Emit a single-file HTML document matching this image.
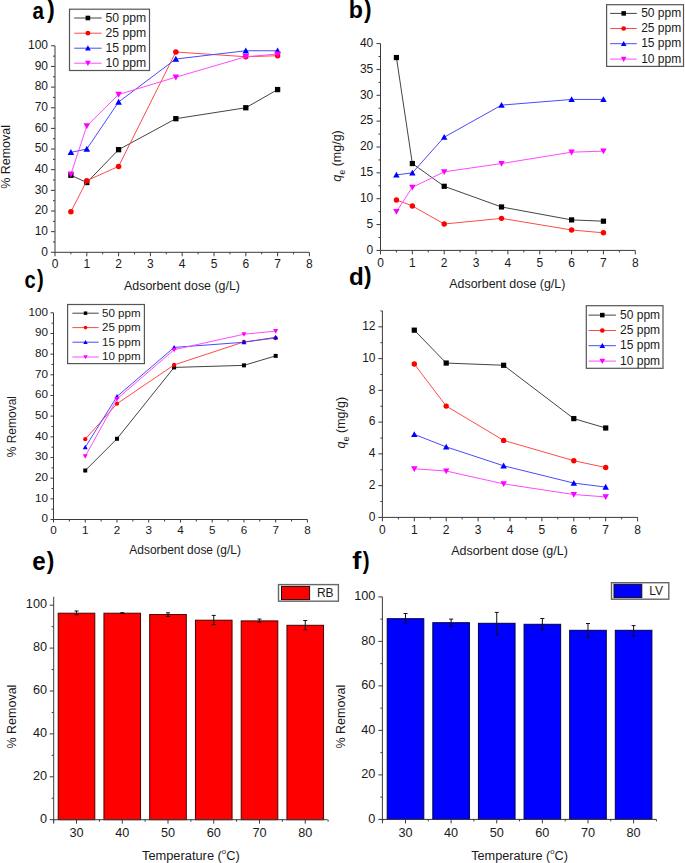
<!DOCTYPE html>
<html><head><meta charset="utf-8"><style>
html,body{margin:0;padding:0;background:#fff;}
svg{display:block;font-family:"Liberation Sans",sans-serif;}
</style></head><body>
<svg width="685" height="863" viewBox="0 0 685 863">
<rect width="685" height="863" fill="#fff"/>
<line x1="55" y1="45.8" x2="55" y2="252.3" stroke="#3a3a3a" stroke-width="1"/>
<line x1="51" y1="252.3" x2="55" y2="252.3" stroke="#3a3a3a" stroke-width="1"/>
<line x1="51" y1="231.65" x2="55" y2="231.65" stroke="#3a3a3a" stroke-width="1"/>
<line x1="51" y1="211" x2="55" y2="211" stroke="#3a3a3a" stroke-width="1"/>
<line x1="51" y1="190.35" x2="55" y2="190.35" stroke="#3a3a3a" stroke-width="1"/>
<line x1="51" y1="169.7" x2="55" y2="169.7" stroke="#3a3a3a" stroke-width="1"/>
<line x1="51" y1="149.05" x2="55" y2="149.05" stroke="#3a3a3a" stroke-width="1"/>
<line x1="51" y1="128.4" x2="55" y2="128.4" stroke="#3a3a3a" stroke-width="1"/>
<line x1="51" y1="107.75" x2="55" y2="107.75" stroke="#3a3a3a" stroke-width="1"/>
<line x1="51" y1="87.1" x2="55" y2="87.1" stroke="#3a3a3a" stroke-width="1"/>
<line x1="51" y1="66.45" x2="55" y2="66.45" stroke="#3a3a3a" stroke-width="1"/>
<line x1="51" y1="45.8" x2="55" y2="45.8" stroke="#3a3a3a" stroke-width="1"/>
<line x1="53" y1="241.98" x2="55" y2="241.98" stroke="#3a3a3a" stroke-width="1"/>
<line x1="53" y1="221.33" x2="55" y2="221.33" stroke="#3a3a3a" stroke-width="1"/>
<line x1="53" y1="200.68" x2="55" y2="200.68" stroke="#3a3a3a" stroke-width="1"/>
<line x1="53" y1="180.03" x2="55" y2="180.03" stroke="#3a3a3a" stroke-width="1"/>
<line x1="53" y1="159.38" x2="55" y2="159.38" stroke="#3a3a3a" stroke-width="1"/>
<line x1="53" y1="138.73" x2="55" y2="138.73" stroke="#3a3a3a" stroke-width="1"/>
<line x1="53" y1="118.08" x2="55" y2="118.08" stroke="#3a3a3a" stroke-width="1"/>
<line x1="53" y1="97.43" x2="55" y2="97.43" stroke="#3a3a3a" stroke-width="1"/>
<line x1="53" y1="76.78" x2="55" y2="76.78" stroke="#3a3a3a" stroke-width="1"/>
<line x1="53" y1="56.13" x2="55" y2="56.13" stroke="#3a3a3a" stroke-width="1"/>
<text x="48" y="255.62" font-size="12" text-anchor="end" fill="#1a1a1a">0</text>
<text x="48" y="234.97" font-size="12" text-anchor="end" fill="#1a1a1a">10</text>
<text x="48" y="214.32" font-size="12" text-anchor="end" fill="#1a1a1a">20</text>
<text x="48" y="193.67" font-size="12" text-anchor="end" fill="#1a1a1a">30</text>
<text x="48" y="173.02" font-size="12" text-anchor="end" fill="#1a1a1a">40</text>
<text x="48" y="152.37" font-size="12" text-anchor="end" fill="#1a1a1a">50</text>
<text x="48" y="131.72" font-size="12" text-anchor="end" fill="#1a1a1a">60</text>
<text x="48" y="111.07" font-size="12" text-anchor="end" fill="#1a1a1a">70</text>
<text x="48" y="90.42" font-size="12" text-anchor="end" fill="#1a1a1a">80</text>
<text x="48" y="69.77" font-size="12" text-anchor="end" fill="#1a1a1a">90</text>
<text x="48" y="49.12" font-size="12" text-anchor="end" fill="#1a1a1a">100</text>
<line x1="55" y1="252.3" x2="309.4" y2="252.3" stroke="#3a3a3a" stroke-width="1"/>
<line x1="55" y1="252.3" x2="55" y2="256.3" stroke="#3a3a3a" stroke-width="1"/>
<line x1="86.8" y1="252.3" x2="86.8" y2="256.3" stroke="#3a3a3a" stroke-width="1"/>
<line x1="118.6" y1="252.3" x2="118.6" y2="256.3" stroke="#3a3a3a" stroke-width="1"/>
<line x1="150.4" y1="252.3" x2="150.4" y2="256.3" stroke="#3a3a3a" stroke-width="1"/>
<line x1="182.2" y1="252.3" x2="182.2" y2="256.3" stroke="#3a3a3a" stroke-width="1"/>
<line x1="214" y1="252.3" x2="214" y2="256.3" stroke="#3a3a3a" stroke-width="1"/>
<line x1="245.8" y1="252.3" x2="245.8" y2="256.3" stroke="#3a3a3a" stroke-width="1"/>
<line x1="277.6" y1="252.3" x2="277.6" y2="256.3" stroke="#3a3a3a" stroke-width="1"/>
<line x1="309.4" y1="252.3" x2="309.4" y2="256.3" stroke="#3a3a3a" stroke-width="1"/>
<line x1="70.9" y1="252.3" x2="70.9" y2="254.3" stroke="#3a3a3a" stroke-width="1"/>
<line x1="102.7" y1="252.3" x2="102.7" y2="254.3" stroke="#3a3a3a" stroke-width="1"/>
<line x1="134.5" y1="252.3" x2="134.5" y2="254.3" stroke="#3a3a3a" stroke-width="1"/>
<line x1="166.3" y1="252.3" x2="166.3" y2="254.3" stroke="#3a3a3a" stroke-width="1"/>
<line x1="198.1" y1="252.3" x2="198.1" y2="254.3" stroke="#3a3a3a" stroke-width="1"/>
<line x1="229.9" y1="252.3" x2="229.9" y2="254.3" stroke="#3a3a3a" stroke-width="1"/>
<line x1="261.7" y1="252.3" x2="261.7" y2="254.3" stroke="#3a3a3a" stroke-width="1"/>
<line x1="293.5" y1="252.3" x2="293.5" y2="254.3" stroke="#3a3a3a" stroke-width="1"/>
<text x="55" y="268.4" font-size="12" text-anchor="middle" fill="#1a1a1a">0</text>
<text x="86.8" y="268.4" font-size="12" text-anchor="middle" fill="#1a1a1a">1</text>
<text x="118.6" y="268.4" font-size="12" text-anchor="middle" fill="#1a1a1a">2</text>
<text x="150.4" y="268.4" font-size="12" text-anchor="middle" fill="#1a1a1a">3</text>
<text x="182.2" y="268.4" font-size="12" text-anchor="middle" fill="#1a1a1a">4</text>
<text x="214" y="268.4" font-size="12" text-anchor="middle" fill="#1a1a1a">5</text>
<text x="245.8" y="268.4" font-size="12" text-anchor="middle" fill="#1a1a1a">6</text>
<text x="277.6" y="268.4" font-size="12" text-anchor="middle" fill="#1a1a1a">7</text>
<text x="309.4" y="268.4" font-size="12" text-anchor="middle" fill="#1a1a1a">8</text>
<polyline points="70.9,175.28 86.8,182.5 118.6,149.67 175.84,118.69 245.8,107.75 277.6,89.58" fill="none" stroke="#444444" stroke-width="1"/>
<rect x="68.25" y="172.63" width="5.3" height="5.3" fill="#000000"/>
<rect x="84.15" y="179.85" width="5.3" height="5.3" fill="#000000"/>
<rect x="115.95" y="147.02" width="5.3" height="5.3" fill="#000000"/>
<rect x="173.19" y="116.04" width="5.3" height="5.3" fill="#000000"/>
<rect x="243.15" y="105.1" width="5.3" height="5.3" fill="#000000"/>
<rect x="274.95" y="86.93" width="5.3" height="5.3" fill="#000000"/>
<polyline points="70.9,211.83 86.8,180.64 118.6,166.4 175.84,52 245.8,56.74 277.6,55.71" fill="none" stroke="#ff4a4a" stroke-width="1"/>
<circle cx="70.9" cy="211.83" r="2.75" fill="#ff0000"/>
<circle cx="86.8" cy="180.64" r="2.75" fill="#ff0000"/>
<circle cx="118.6" cy="166.4" r="2.75" fill="#ff0000"/>
<circle cx="175.84" cy="52" r="2.75" fill="#ff0000"/>
<circle cx="245.8" cy="56.74" r="2.75" fill="#ff0000"/>
<circle cx="277.6" cy="55.71" r="2.75" fill="#ff0000"/>
<polyline points="70.9,152.35 86.8,149.05 118.6,101.97 175.84,59.02 245.8,50.76 277.6,50.76" fill="none" stroke="#4a4aff" stroke-width="1"/>
<path d="M67.6 155.03L74.2 155.03L70.9 149.09Z" fill="#0000ff"/>
<path d="M83.5 151.72L90.1 151.72L86.8 145.78Z" fill="#0000ff"/>
<path d="M115.3 104.64L121.9 104.64L118.6 98.7Z" fill="#0000ff"/>
<path d="M172.54 61.69L179.14 61.69L175.84 55.75Z" fill="#0000ff"/>
<path d="M242.5 53.43L249.1 53.43L245.8 47.49Z" fill="#0000ff"/>
<path d="M274.3 53.43L280.9 53.43L277.6 47.49Z" fill="#0000ff"/>
<polyline points="70.9,174.24 86.8,125.92 118.6,94.53 175.84,77.19 245.8,56.74 277.6,54.06" fill="none" stroke="#ff4aff" stroke-width="1"/>
<path d="M67.6 171.57L74.2 171.57L70.9 177.51Z" fill="#ff00ff"/>
<path d="M83.5 123.25L90.1 123.25L86.8 129.19Z" fill="#ff00ff"/>
<path d="M115.3 91.86L121.9 91.86L118.6 97.8Z" fill="#ff00ff"/>
<path d="M172.54 74.52L179.14 74.52L175.84 80.46Z" fill="#ff00ff"/>
<path d="M242.5 54.07L249.1 54.07L245.8 60.01Z" fill="#ff00ff"/>
<path d="M274.3 51.39L280.9 51.39L277.6 57.33Z" fill="#ff00ff"/>
<rect x="69.5" y="9.2" width="80" height="61.3" fill="#fff" stroke="#555" stroke-width="1.2"/>
<line x1="74.2" y1="18" x2="101.6" y2="18" stroke="#444444" stroke-width="1"/>
<rect x="85.59" y="15.69" width="4.61" height="4.61" fill="#000000"/>
<text x="105.5" y="21.59" font-size="12.2" text-anchor="start" fill="#1a1a1a">50 ppm</text>
<line x1="74.2" y1="33.2" x2="101.6" y2="33.2" stroke="#ff4a4a" stroke-width="1"/>
<circle cx="87.9" cy="33.2" r="2.39" fill="#ff0000"/>
<text x="105.5" y="36.79" font-size="12.2" text-anchor="start" fill="#1a1a1a">25 ppm</text>
<line x1="74.2" y1="48.2" x2="101.6" y2="48.2" stroke="#4a4aff" stroke-width="1"/>
<path d="M85.03 50.53L90.77 50.53L87.9 45.36Z" fill="#0000ff"/>
<text x="105.5" y="51.79" font-size="12.2" text-anchor="start" fill="#1a1a1a">15 ppm</text>
<line x1="74.2" y1="63.2" x2="101.6" y2="63.2" stroke="#ff4aff" stroke-width="1"/>
<path d="M85.03 60.87L90.77 60.87L87.9 66.04Z" fill="#ff00ff"/>
<text x="105.5" y="66.79" font-size="12.2" text-anchor="start" fill="#1a1a1a">10 ppm</text>
<text x="10.3" y="156.9" font-size="12.5" text-anchor="middle" fill="#1a1a1a" transform="rotate(-90 10.3 156.9)">% Removal</text>
<text x="182" y="289.9" font-size="12.5" text-anchor="middle" fill="#1a1a1a" textLength="116" lengthAdjust="spacingAndGlyphs">Adsorbent dose (g/L)</text>
<text transform="translate(32.5 18.76) scale(0.8599 1.0036)" font-size="24" font-weight="bold" fill="#000">a</text>
<text transform="translate(46.98 18.46) scale(0.9752 1.0495)" font-size="24" font-weight="bold" fill="#000">)</text>
<line x1="380.5" y1="43.6" x2="380.5" y2="250.4" stroke="#3a3a3a" stroke-width="1"/>
<line x1="376.5" y1="250.4" x2="380.5" y2="250.4" stroke="#3a3a3a" stroke-width="1"/>
<line x1="376.5" y1="224.55" x2="380.5" y2="224.55" stroke="#3a3a3a" stroke-width="1"/>
<line x1="376.5" y1="198.7" x2="380.5" y2="198.7" stroke="#3a3a3a" stroke-width="1"/>
<line x1="376.5" y1="172.85" x2="380.5" y2="172.85" stroke="#3a3a3a" stroke-width="1"/>
<line x1="376.5" y1="147" x2="380.5" y2="147" stroke="#3a3a3a" stroke-width="1"/>
<line x1="376.5" y1="121.15" x2="380.5" y2="121.15" stroke="#3a3a3a" stroke-width="1"/>
<line x1="376.5" y1="95.3" x2="380.5" y2="95.3" stroke="#3a3a3a" stroke-width="1"/>
<line x1="376.5" y1="69.45" x2="380.5" y2="69.45" stroke="#3a3a3a" stroke-width="1"/>
<line x1="376.5" y1="43.6" x2="380.5" y2="43.6" stroke="#3a3a3a" stroke-width="1"/>
<line x1="378.5" y1="237.47" x2="380.5" y2="237.47" stroke="#3a3a3a" stroke-width="1"/>
<line x1="378.5" y1="211.62" x2="380.5" y2="211.62" stroke="#3a3a3a" stroke-width="1"/>
<line x1="378.5" y1="185.78" x2="380.5" y2="185.78" stroke="#3a3a3a" stroke-width="1"/>
<line x1="378.5" y1="159.93" x2="380.5" y2="159.93" stroke="#3a3a3a" stroke-width="1"/>
<line x1="378.5" y1="134.07" x2="380.5" y2="134.07" stroke="#3a3a3a" stroke-width="1"/>
<line x1="378.5" y1="108.22" x2="380.5" y2="108.22" stroke="#3a3a3a" stroke-width="1"/>
<line x1="378.5" y1="82.38" x2="380.5" y2="82.38" stroke="#3a3a3a" stroke-width="1"/>
<line x1="378.5" y1="56.53" x2="380.5" y2="56.53" stroke="#3a3a3a" stroke-width="1"/>
<text x="373.3" y="253.72" font-size="12" text-anchor="end" fill="#1a1a1a">0</text>
<text x="373.3" y="227.87" font-size="12" text-anchor="end" fill="#1a1a1a">5</text>
<text x="373.3" y="202.02" font-size="12" text-anchor="end" fill="#1a1a1a">10</text>
<text x="373.3" y="176.17" font-size="12" text-anchor="end" fill="#1a1a1a">15</text>
<text x="373.3" y="150.32" font-size="12" text-anchor="end" fill="#1a1a1a">20</text>
<text x="373.3" y="124.47" font-size="12" text-anchor="end" fill="#1a1a1a">25</text>
<text x="373.3" y="98.62" font-size="12" text-anchor="end" fill="#1a1a1a">30</text>
<text x="373.3" y="72.77" font-size="12" text-anchor="end" fill="#1a1a1a">35</text>
<text x="373.3" y="46.92" font-size="12" text-anchor="end" fill="#1a1a1a">40</text>
<line x1="380.5" y1="250.4" x2="635.3" y2="250.4" stroke="#3a3a3a" stroke-width="1"/>
<line x1="380.5" y1="250.4" x2="380.5" y2="254.4" stroke="#3a3a3a" stroke-width="1"/>
<line x1="412.35" y1="250.4" x2="412.35" y2="254.4" stroke="#3a3a3a" stroke-width="1"/>
<line x1="444.2" y1="250.4" x2="444.2" y2="254.4" stroke="#3a3a3a" stroke-width="1"/>
<line x1="476.05" y1="250.4" x2="476.05" y2="254.4" stroke="#3a3a3a" stroke-width="1"/>
<line x1="507.9" y1="250.4" x2="507.9" y2="254.4" stroke="#3a3a3a" stroke-width="1"/>
<line x1="539.75" y1="250.4" x2="539.75" y2="254.4" stroke="#3a3a3a" stroke-width="1"/>
<line x1="571.6" y1="250.4" x2="571.6" y2="254.4" stroke="#3a3a3a" stroke-width="1"/>
<line x1="603.45" y1="250.4" x2="603.45" y2="254.4" stroke="#3a3a3a" stroke-width="1"/>
<line x1="635.3" y1="250.4" x2="635.3" y2="254.4" stroke="#3a3a3a" stroke-width="1"/>
<line x1="396.43" y1="250.4" x2="396.43" y2="252.4" stroke="#3a3a3a" stroke-width="1"/>
<line x1="428.27" y1="250.4" x2="428.27" y2="252.4" stroke="#3a3a3a" stroke-width="1"/>
<line x1="460.12" y1="250.4" x2="460.12" y2="252.4" stroke="#3a3a3a" stroke-width="1"/>
<line x1="491.98" y1="250.4" x2="491.98" y2="252.4" stroke="#3a3a3a" stroke-width="1"/>
<line x1="523.83" y1="250.4" x2="523.83" y2="252.4" stroke="#3a3a3a" stroke-width="1"/>
<line x1="555.67" y1="250.4" x2="555.67" y2="252.4" stroke="#3a3a3a" stroke-width="1"/>
<line x1="587.52" y1="250.4" x2="587.52" y2="252.4" stroke="#3a3a3a" stroke-width="1"/>
<line x1="619.38" y1="250.4" x2="619.38" y2="252.4" stroke="#3a3a3a" stroke-width="1"/>
<text x="380.5" y="267" font-size="12" text-anchor="middle" fill="#1a1a1a">0</text>
<text x="412.35" y="267" font-size="12" text-anchor="middle" fill="#1a1a1a">1</text>
<text x="444.2" y="267" font-size="12" text-anchor="middle" fill="#1a1a1a">2</text>
<text x="476.05" y="267" font-size="12" text-anchor="middle" fill="#1a1a1a">3</text>
<text x="507.9" y="267" font-size="12" text-anchor="middle" fill="#1a1a1a">4</text>
<text x="539.75" y="267" font-size="12" text-anchor="middle" fill="#1a1a1a">5</text>
<text x="571.6" y="267" font-size="12" text-anchor="middle" fill="#1a1a1a">6</text>
<text x="603.45" y="267" font-size="12" text-anchor="middle" fill="#1a1a1a">7</text>
<text x="635.3" y="267" font-size="12" text-anchor="middle" fill="#1a1a1a">8</text>
<polyline points="396.43,57.56 412.35,163.54 444.2,186.29 501.53,206.97 571.6,219.9 603.45,221.19" fill="none" stroke="#444444" stroke-width="1"/>
<rect x="393.82" y="54.96" width="5.2" height="5.2" fill="#000000"/>
<rect x="409.75" y="160.94" width="5.2" height="5.2" fill="#000000"/>
<rect x="441.6" y="183.69" width="5.2" height="5.2" fill="#000000"/>
<rect x="498.93" y="204.37" width="5.2" height="5.2" fill="#000000"/>
<rect x="569" y="217.3" width="5.2" height="5.2" fill="#000000"/>
<rect x="600.85" y="218.59" width="5.2" height="5.2" fill="#000000"/>
<polyline points="396.43,199.99 412.35,205.94 444.2,224.03 501.53,218.35 571.6,229.98 603.45,232.82" fill="none" stroke="#ff4a4a" stroke-width="1"/>
<circle cx="396.43" cy="199.99" r="2.7" fill="#ff0000"/>
<circle cx="412.35" cy="205.94" r="2.7" fill="#ff0000"/>
<circle cx="444.2" cy="224.03" r="2.7" fill="#ff0000"/>
<circle cx="501.53" cy="218.35" r="2.7" fill="#ff0000"/>
<circle cx="571.6" cy="229.98" r="2.7" fill="#ff0000"/>
<circle cx="603.45" cy="232.82" r="2.7" fill="#ff0000"/>
<polyline points="396.43,174.92 412.35,172.85 444.2,137.18 501.53,105.12 571.6,99.44 603.45,99.44" fill="none" stroke="#4a4aff" stroke-width="1"/>
<path d="M393.19 177.54L399.67 177.54L396.43 171.71Z" fill="#0000ff"/>
<path d="M409.11 175.47L415.59 175.47L412.35 169.64Z" fill="#0000ff"/>
<path d="M440.96 139.8L447.44 139.8L444.2 133.97Z" fill="#0000ff"/>
<path d="M498.29 107.75L504.77 107.75L501.53 101.92Z" fill="#0000ff"/>
<path d="M568.36 102.06L574.84 102.06L571.6 96.23Z" fill="#0000ff"/>
<path d="M600.21 102.06L606.69 102.06L603.45 96.23Z" fill="#0000ff"/>
<polyline points="396.43,211.62 412.35,187.33 444.2,171.82 501.53,163.54 571.6,152.17 603.45,151.14" fill="none" stroke="#ff4aff" stroke-width="1"/>
<path d="M393.19 209L399.67 209L396.43 214.83Z" fill="#ff00ff"/>
<path d="M409.11 184.7L415.59 184.7L412.35 190.53Z" fill="#ff00ff"/>
<path d="M440.96 169.19L447.44 169.19L444.2 175.02Z" fill="#ff00ff"/>
<path d="M498.29 160.92L504.77 160.92L501.53 166.75Z" fill="#ff00ff"/>
<path d="M568.36 149.55L574.84 149.55L571.6 155.38Z" fill="#ff00ff"/>
<path d="M600.21 148.51L606.69 148.51L603.45 154.34Z" fill="#ff00ff"/>
<rect x="606.6" y="4.7" width="76.9" height="61.7" fill="#fff" stroke="#555" stroke-width="1.2"/>
<line x1="610.1" y1="13.4" x2="636.8" y2="13.4" stroke="#444444" stroke-width="1"/>
<rect x="621.44" y="11.14" width="4.52" height="4.52" fill="#000000"/>
<text x="641.2" y="16.92" font-size="12.0" text-anchor="start" fill="#1a1a1a">50 ppm</text>
<line x1="610.1" y1="28.5" x2="636.8" y2="28.5" stroke="#ff4a4a" stroke-width="1"/>
<circle cx="623.7" cy="28.5" r="2.35" fill="#ff0000"/>
<text x="641.2" y="32.02" font-size="12.0" text-anchor="start" fill="#1a1a1a">25 ppm</text>
<line x1="610.1" y1="43.7" x2="636.8" y2="43.7" stroke="#4a4aff" stroke-width="1"/>
<path d="M620.88 45.98L626.52 45.98L623.7 40.91Z" fill="#0000ff"/>
<text x="641.2" y="47.22" font-size="12.0" text-anchor="start" fill="#1a1a1a">15 ppm</text>
<line x1="610.1" y1="59.1" x2="636.8" y2="59.1" stroke="#ff4aff" stroke-width="1"/>
<path d="M620.88 56.82L626.52 56.82L623.7 61.89Z" fill="#ff00ff"/>
<text x="641.2" y="62.62" font-size="12.0" text-anchor="start" fill="#1a1a1a">10 ppm</text>
<text x="340.8" y="156" font-size="12.5" text-anchor="middle" fill="#1a1a1a" transform="rotate(-90 340.8 156)"><tspan font-style="italic">q</tspan><tspan font-size="8.5" dy="4.2" dx="0.3">e</tspan><tspan dy="-4.2"> (mg/g)</tspan></text>
<text x="507.3" y="288.3" font-size="12.5" text-anchor="middle" fill="#1a1a1a" textLength="116" lengthAdjust="spacingAndGlyphs">Adsorbent dose (g/L)</text>
<text transform="translate(348.87 18.46) scale(0.9673 0.9921)" font-size="24" font-weight="bold" fill="#000">b</text>
<text transform="translate(363.88 18.18) scale(0.9456 1.0450)" font-size="24" font-weight="bold" fill="#000">)</text>
<line x1="53.5" y1="312.8" x2="53.5" y2="519.5" stroke="#3a3a3a" stroke-width="1"/>
<line x1="50.5" y1="519.5" x2="53.5" y2="519.5" stroke="#3a3a3a" stroke-width="1"/>
<line x1="50.5" y1="498.83" x2="53.5" y2="498.83" stroke="#3a3a3a" stroke-width="1"/>
<line x1="50.5" y1="478.16" x2="53.5" y2="478.16" stroke="#3a3a3a" stroke-width="1"/>
<line x1="50.5" y1="457.49" x2="53.5" y2="457.49" stroke="#3a3a3a" stroke-width="1"/>
<line x1="50.5" y1="436.82" x2="53.5" y2="436.82" stroke="#3a3a3a" stroke-width="1"/>
<line x1="50.5" y1="416.15" x2="53.5" y2="416.15" stroke="#3a3a3a" stroke-width="1"/>
<line x1="50.5" y1="395.48" x2="53.5" y2="395.48" stroke="#3a3a3a" stroke-width="1"/>
<line x1="50.5" y1="374.81" x2="53.5" y2="374.81" stroke="#3a3a3a" stroke-width="1"/>
<line x1="50.5" y1="354.14" x2="53.5" y2="354.14" stroke="#3a3a3a" stroke-width="1"/>
<line x1="50.5" y1="333.47" x2="53.5" y2="333.47" stroke="#3a3a3a" stroke-width="1"/>
<line x1="50.5" y1="312.8" x2="53.5" y2="312.8" stroke="#3a3a3a" stroke-width="1"/>
<line x1="51.5" y1="509.17" x2="53.5" y2="509.17" stroke="#3a3a3a" stroke-width="1"/>
<line x1="51.5" y1="488.5" x2="53.5" y2="488.5" stroke="#3a3a3a" stroke-width="1"/>
<line x1="51.5" y1="467.82" x2="53.5" y2="467.82" stroke="#3a3a3a" stroke-width="1"/>
<line x1="51.5" y1="447.15" x2="53.5" y2="447.15" stroke="#3a3a3a" stroke-width="1"/>
<line x1="51.5" y1="426.49" x2="53.5" y2="426.49" stroke="#3a3a3a" stroke-width="1"/>
<line x1="51.5" y1="405.81" x2="53.5" y2="405.81" stroke="#3a3a3a" stroke-width="1"/>
<line x1="51.5" y1="385.14" x2="53.5" y2="385.14" stroke="#3a3a3a" stroke-width="1"/>
<line x1="51.5" y1="364.48" x2="53.5" y2="364.48" stroke="#3a3a3a" stroke-width="1"/>
<line x1="51.5" y1="343.8" x2="53.5" y2="343.8" stroke="#3a3a3a" stroke-width="1"/>
<line x1="51.5" y1="323.13" x2="53.5" y2="323.13" stroke="#3a3a3a" stroke-width="1"/>
<text x="48" y="522.21" font-size="11.7" text-anchor="end" fill="#1a1a1a">0</text>
<text x="48" y="501.54" font-size="11.7" text-anchor="end" fill="#1a1a1a">10</text>
<text x="48" y="480.87" font-size="11.7" text-anchor="end" fill="#1a1a1a">20</text>
<text x="48" y="460.2" font-size="11.7" text-anchor="end" fill="#1a1a1a">30</text>
<text x="48" y="439.53" font-size="11.7" text-anchor="end" fill="#1a1a1a">40</text>
<text x="48" y="418.86" font-size="11.7" text-anchor="end" fill="#1a1a1a">50</text>
<text x="48" y="398.19" font-size="11.7" text-anchor="end" fill="#1a1a1a">60</text>
<text x="48" y="377.52" font-size="11.7" text-anchor="end" fill="#1a1a1a">70</text>
<text x="48" y="356.85" font-size="11.7" text-anchor="end" fill="#1a1a1a">80</text>
<text x="48" y="336.18" font-size="11.7" text-anchor="end" fill="#1a1a1a">90</text>
<text x="48" y="315.51" font-size="11.7" text-anchor="end" fill="#1a1a1a">100</text>
<line x1="53.5" y1="519.5" x2="307.42" y2="519.5" stroke="#3a3a3a" stroke-width="1"/>
<line x1="53.5" y1="519.5" x2="53.5" y2="522.5" stroke="#3a3a3a" stroke-width="1"/>
<line x1="85.24" y1="519.5" x2="85.24" y2="522.5" stroke="#3a3a3a" stroke-width="1"/>
<line x1="116.98" y1="519.5" x2="116.98" y2="522.5" stroke="#3a3a3a" stroke-width="1"/>
<line x1="148.72" y1="519.5" x2="148.72" y2="522.5" stroke="#3a3a3a" stroke-width="1"/>
<line x1="180.46" y1="519.5" x2="180.46" y2="522.5" stroke="#3a3a3a" stroke-width="1"/>
<line x1="212.2" y1="519.5" x2="212.2" y2="522.5" stroke="#3a3a3a" stroke-width="1"/>
<line x1="243.94" y1="519.5" x2="243.94" y2="522.5" stroke="#3a3a3a" stroke-width="1"/>
<line x1="275.68" y1="519.5" x2="275.68" y2="522.5" stroke="#3a3a3a" stroke-width="1"/>
<line x1="307.42" y1="519.5" x2="307.42" y2="522.5" stroke="#3a3a3a" stroke-width="1"/>
<line x1="69.37" y1="519.5" x2="69.37" y2="521.5" stroke="#3a3a3a" stroke-width="1"/>
<line x1="101.11" y1="519.5" x2="101.11" y2="521.5" stroke="#3a3a3a" stroke-width="1"/>
<line x1="132.85" y1="519.5" x2="132.85" y2="521.5" stroke="#3a3a3a" stroke-width="1"/>
<line x1="164.59" y1="519.5" x2="164.59" y2="521.5" stroke="#3a3a3a" stroke-width="1"/>
<line x1="196.33" y1="519.5" x2="196.33" y2="521.5" stroke="#3a3a3a" stroke-width="1"/>
<line x1="228.07" y1="519.5" x2="228.07" y2="521.5" stroke="#3a3a3a" stroke-width="1"/>
<line x1="259.81" y1="519.5" x2="259.81" y2="521.5" stroke="#3a3a3a" stroke-width="1"/>
<line x1="291.55" y1="519.5" x2="291.55" y2="521.5" stroke="#3a3a3a" stroke-width="1"/>
<text x="53.5" y="533.6" font-size="11.7" text-anchor="middle" fill="#1a1a1a">0</text>
<text x="85.24" y="533.6" font-size="11.7" text-anchor="middle" fill="#1a1a1a">1</text>
<text x="116.98" y="533.6" font-size="11.7" text-anchor="middle" fill="#1a1a1a">2</text>
<text x="148.72" y="533.6" font-size="11.7" text-anchor="middle" fill="#1a1a1a">3</text>
<text x="180.46" y="533.6" font-size="11.7" text-anchor="middle" fill="#1a1a1a">4</text>
<text x="212.2" y="533.6" font-size="11.7" text-anchor="middle" fill="#1a1a1a">5</text>
<text x="243.94" y="533.6" font-size="11.7" text-anchor="middle" fill="#1a1a1a">6</text>
<text x="275.68" y="533.6" font-size="11.7" text-anchor="middle" fill="#1a1a1a">7</text>
<text x="307.42" y="533.6" font-size="11.7" text-anchor="middle" fill="#1a1a1a">8</text>
<polyline points="85.24,470.52 116.98,438.77 174.11,367.42 243.94,365.36 275.68,355.88" fill="none" stroke="#444444" stroke-width="1"/>
<rect x="83.24" y="468.52" width="4" height="4" fill="#000000"/>
<rect x="114.98" y="436.77" width="4" height="4" fill="#000000"/>
<rect x="172.11" y="365.42" width="4" height="4" fill="#000000"/>
<rect x="241.94" y="363.36" width="4" height="4" fill="#000000"/>
<rect x="273.68" y="353.88" width="4" height="4" fill="#000000"/>
<polyline points="85.24,439.18 116.98,403.72 174.11,364.95 243.94,341.86 275.68,338.14" fill="none" stroke="#ff4a4a" stroke-width="1"/>
<circle cx="85.24" cy="439.18" r="2.1" fill="#ff0000"/>
<circle cx="116.98" cy="403.72" r="2.1" fill="#ff0000"/>
<circle cx="174.11" cy="364.95" r="2.1" fill="#ff0000"/>
<circle cx="243.94" cy="341.86" r="2.1" fill="#ff0000"/>
<circle cx="275.68" cy="338.14" r="2.1" fill="#ff0000"/>
<polyline points="85.24,447.22 116.98,396.5 174.11,347.42 243.94,342.27 275.68,337.32" fill="none" stroke="#4a4aff" stroke-width="1"/>
<path d="M82.72 449.27L87.76 449.27L85.24 444.73Z" fill="#0000ff"/>
<path d="M114.46 398.54L119.5 398.54L116.98 394Z" fill="#0000ff"/>
<path d="M171.59 349.46L176.63 349.46L174.11 344.93Z" fill="#0000ff"/>
<path d="M241.42 344.31L246.46 344.31L243.94 339.77Z" fill="#0000ff"/>
<path d="M273.16 339.36L278.2 339.36L275.68 334.82Z" fill="#0000ff"/>
<polyline points="85.24,456.3 116.98,398.97 174.11,349.69 243.94,334.23 275.68,331.13" fill="none" stroke="#ff4aff" stroke-width="1"/>
<path d="M82.72 454.26L87.76 454.26L85.24 458.79Z" fill="#ff00ff"/>
<path d="M114.46 396.93L119.5 396.93L116.98 401.47Z" fill="#ff00ff"/>
<path d="M171.59 347.65L176.63 347.65L174.11 352.19Z" fill="#ff00ff"/>
<path d="M241.42 332.19L246.46 332.19L243.94 336.72Z" fill="#ff00ff"/>
<path d="M273.16 329.09L278.2 329.09L275.68 333.63Z" fill="#ff00ff"/>
<rect x="67.6" y="304.5" width="76.8" height="59.1" fill="#fff" stroke="#555" stroke-width="1.2"/>
<line x1="72.4" y1="313.2" x2="98.7" y2="313.2" stroke="#444444" stroke-width="1"/>
<rect x="83.76" y="311.46" width="3.48" height="3.48" fill="#000000"/>
<text x="102" y="316.58" font-size="11.6" text-anchor="start" fill="#1a1a1a">50 ppm</text>
<line x1="72.4" y1="327.6" x2="98.7" y2="327.6" stroke="#ff4a4a" stroke-width="1"/>
<circle cx="85.5" cy="327.6" r="1.83" fill="#ff0000"/>
<text x="102" y="330.98" font-size="11.6" text-anchor="start" fill="#1a1a1a">25 ppm</text>
<line x1="72.4" y1="342.2" x2="98.7" y2="342.2" stroke="#4a4aff" stroke-width="1"/>
<path d="M83.31 343.98L87.69 343.98L85.5 340.03Z" fill="#0000ff"/>
<text x="102" y="345.58" font-size="11.6" text-anchor="start" fill="#1a1a1a">15 ppm</text>
<line x1="72.4" y1="357" x2="98.7" y2="357" stroke="#ff4aff" stroke-width="1"/>
<path d="M83.31 355.22L87.69 355.22L85.5 359.17Z" fill="#ff00ff"/>
<text x="102" y="360.38" font-size="11.6" text-anchor="start" fill="#1a1a1a">10 ppm</text>
<text x="16.2" y="426.7" font-size="12" text-anchor="middle" fill="#1a1a1a" transform="rotate(-90 16.2 426.7)">% Removal</text>
<text x="185.1" y="553.9" font-size="12" text-anchor="middle" fill="#1a1a1a" textLength="111.6" lengthAdjust="spacingAndGlyphs">Adsorbent dose (g/L)</text>
<text transform="translate(24.52 287.86) scale(0.8367 1.0189)" font-size="24" font-weight="bold" fill="#000">c</text>
<text transform="translate(36.88 287.22) scale(0.8422 1.0182)" font-size="24" font-weight="bold" fill="#000">)</text>
<line x1="382.4" y1="310.96" x2="382.4" y2="517.4" stroke="#3a3a3a" stroke-width="1"/>
<line x1="378.4" y1="517.4" x2="382.4" y2="517.4" stroke="#3a3a3a" stroke-width="1"/>
<line x1="378.4" y1="485.64" x2="382.4" y2="485.64" stroke="#3a3a3a" stroke-width="1"/>
<line x1="378.4" y1="453.88" x2="382.4" y2="453.88" stroke="#3a3a3a" stroke-width="1"/>
<line x1="378.4" y1="422.12" x2="382.4" y2="422.12" stroke="#3a3a3a" stroke-width="1"/>
<line x1="378.4" y1="390.36" x2="382.4" y2="390.36" stroke="#3a3a3a" stroke-width="1"/>
<line x1="378.4" y1="358.6" x2="382.4" y2="358.6" stroke="#3a3a3a" stroke-width="1"/>
<line x1="378.4" y1="326.84" x2="382.4" y2="326.84" stroke="#3a3a3a" stroke-width="1"/>
<line x1="380.4" y1="501.52" x2="382.4" y2="501.52" stroke="#3a3a3a" stroke-width="1"/>
<line x1="380.4" y1="469.76" x2="382.4" y2="469.76" stroke="#3a3a3a" stroke-width="1"/>
<line x1="380.4" y1="438" x2="382.4" y2="438" stroke="#3a3a3a" stroke-width="1"/>
<line x1="380.4" y1="406.24" x2="382.4" y2="406.24" stroke="#3a3a3a" stroke-width="1"/>
<line x1="380.4" y1="374.48" x2="382.4" y2="374.48" stroke="#3a3a3a" stroke-width="1"/>
<line x1="380.4" y1="342.72" x2="382.4" y2="342.72" stroke="#3a3a3a" stroke-width="1"/>
<line x1="380.4" y1="310.96" x2="382.4" y2="310.96" stroke="#3a3a3a" stroke-width="1"/>
<text x="375.5" y="520.72" font-size="12" text-anchor="end" fill="#1a1a1a">0</text>
<text x="375.5" y="488.96" font-size="12" text-anchor="end" fill="#1a1a1a">2</text>
<text x="375.5" y="457.2" font-size="12" text-anchor="end" fill="#1a1a1a">4</text>
<text x="375.5" y="425.44" font-size="12" text-anchor="end" fill="#1a1a1a">6</text>
<text x="375.5" y="393.68" font-size="12" text-anchor="end" fill="#1a1a1a">8</text>
<text x="375.5" y="361.92" font-size="12" text-anchor="end" fill="#1a1a1a">10</text>
<text x="375.5" y="330.16" font-size="12" text-anchor="end" fill="#1a1a1a">12</text>
<line x1="382.4" y1="517.4" x2="637.6" y2="517.4" stroke="#3a3a3a" stroke-width="1"/>
<line x1="382.4" y1="517.4" x2="382.4" y2="521.4" stroke="#3a3a3a" stroke-width="1"/>
<line x1="414.3" y1="517.4" x2="414.3" y2="521.4" stroke="#3a3a3a" stroke-width="1"/>
<line x1="446.2" y1="517.4" x2="446.2" y2="521.4" stroke="#3a3a3a" stroke-width="1"/>
<line x1="478.1" y1="517.4" x2="478.1" y2="521.4" stroke="#3a3a3a" stroke-width="1"/>
<line x1="510" y1="517.4" x2="510" y2="521.4" stroke="#3a3a3a" stroke-width="1"/>
<line x1="541.9" y1="517.4" x2="541.9" y2="521.4" stroke="#3a3a3a" stroke-width="1"/>
<line x1="573.8" y1="517.4" x2="573.8" y2="521.4" stroke="#3a3a3a" stroke-width="1"/>
<line x1="605.7" y1="517.4" x2="605.7" y2="521.4" stroke="#3a3a3a" stroke-width="1"/>
<line x1="637.6" y1="517.4" x2="637.6" y2="521.4" stroke="#3a3a3a" stroke-width="1"/>
<line x1="398.35" y1="517.4" x2="398.35" y2="519.4" stroke="#3a3a3a" stroke-width="1"/>
<line x1="430.25" y1="517.4" x2="430.25" y2="519.4" stroke="#3a3a3a" stroke-width="1"/>
<line x1="462.15" y1="517.4" x2="462.15" y2="519.4" stroke="#3a3a3a" stroke-width="1"/>
<line x1="494.05" y1="517.4" x2="494.05" y2="519.4" stroke="#3a3a3a" stroke-width="1"/>
<line x1="525.95" y1="517.4" x2="525.95" y2="519.4" stroke="#3a3a3a" stroke-width="1"/>
<line x1="557.85" y1="517.4" x2="557.85" y2="519.4" stroke="#3a3a3a" stroke-width="1"/>
<line x1="589.75" y1="517.4" x2="589.75" y2="519.4" stroke="#3a3a3a" stroke-width="1"/>
<line x1="621.65" y1="517.4" x2="621.65" y2="519.4" stroke="#3a3a3a" stroke-width="1"/>
<text x="382.4" y="533.6" font-size="12" text-anchor="middle" fill="#1a1a1a">0</text>
<text x="414.3" y="533.6" font-size="12" text-anchor="middle" fill="#1a1a1a">1</text>
<text x="446.2" y="533.6" font-size="12" text-anchor="middle" fill="#1a1a1a">2</text>
<text x="478.1" y="533.6" font-size="12" text-anchor="middle" fill="#1a1a1a">3</text>
<text x="510" y="533.6" font-size="12" text-anchor="middle" fill="#1a1a1a">4</text>
<text x="541.9" y="533.6" font-size="12" text-anchor="middle" fill="#1a1a1a">5</text>
<text x="573.8" y="533.6" font-size="12" text-anchor="middle" fill="#1a1a1a">6</text>
<text x="605.7" y="533.6" font-size="12" text-anchor="middle" fill="#1a1a1a">7</text>
<text x="637.6" y="533.6" font-size="12" text-anchor="middle" fill="#1a1a1a">8</text>
<polyline points="414.3,330.17 446.2,363.05 503.62,365.27 573.8,418.63 605.7,428" fill="none" stroke="#444444" stroke-width="1"/>
<rect x="411.7" y="327.57" width="5.2" height="5.2" fill="#000000"/>
<rect x="443.6" y="360.45" width="5.2" height="5.2" fill="#000000"/>
<rect x="501.02" y="362.67" width="5.2" height="5.2" fill="#000000"/>
<rect x="571.2" y="416.03" width="5.2" height="5.2" fill="#000000"/>
<rect x="603.1" y="425.4" width="5.2" height="5.2" fill="#000000"/>
<polyline points="414.3,364 446.2,406.08 503.62,440.38 573.8,460.71 605.7,467.54" fill="none" stroke="#ff4a4a" stroke-width="1"/>
<circle cx="414.3" cy="364" r="2.7" fill="#ff0000"/>
<circle cx="446.2" cy="406.08" r="2.7" fill="#ff0000"/>
<circle cx="503.62" cy="440.38" r="2.7" fill="#ff0000"/>
<circle cx="573.8" cy="460.71" r="2.7" fill="#ff0000"/>
<circle cx="605.7" cy="467.54" r="2.7" fill="#ff0000"/>
<polyline points="414.3,434.35 446.2,446.89 503.62,465.79 573.8,483.1 605.7,487.07" fill="none" stroke="#4a4aff" stroke-width="1"/>
<path d="M411.06 436.97L417.54 436.97L414.3 431.14Z" fill="#0000ff"/>
<path d="M442.96 449.52L449.44 449.52L446.2 443.69Z" fill="#0000ff"/>
<path d="M500.38 468.41L506.86 468.41L503.62 462.58Z" fill="#0000ff"/>
<path d="M570.56 485.72L577.04 485.72L573.8 479.89Z" fill="#0000ff"/>
<path d="M602.46 489.69L608.94 489.69L605.7 483.86Z" fill="#0000ff"/>
<polyline points="414.3,468.81 446.2,471.03 503.62,483.89 573.8,494.53 605.7,496.91" fill="none" stroke="#ff4aff" stroke-width="1"/>
<path d="M411.06 466.18L417.54 466.18L414.3 472.01Z" fill="#ff00ff"/>
<path d="M442.96 468.41L449.44 468.41L446.2 474.24Z" fill="#ff00ff"/>
<path d="M500.38 481.27L506.86 481.27L503.62 487.1Z" fill="#ff00ff"/>
<path d="M570.56 491.91L577.04 491.91L573.8 497.74Z" fill="#ff00ff"/>
<path d="M602.46 494.29L608.94 494.29L605.7 500.12Z" fill="#ff00ff"/>
<rect x="586.3" y="305.7" width="76.7" height="62.6" fill="#fff" stroke="#555" stroke-width="1.2"/>
<line x1="588.5" y1="315.1" x2="615.9" y2="315.1" stroke="#444444" stroke-width="1"/>
<rect x="600.04" y="312.84" width="4.52" height="4.52" fill="#000000"/>
<text x="620.1" y="318.62" font-size="12.0" text-anchor="start" fill="#1a1a1a">50 ppm</text>
<line x1="588.5" y1="330.5" x2="615.9" y2="330.5" stroke="#ff4a4a" stroke-width="1"/>
<circle cx="602.3" cy="330.5" r="2.35" fill="#ff0000"/>
<text x="620.1" y="334.02" font-size="12.0" text-anchor="start" fill="#1a1a1a">25 ppm</text>
<line x1="588.5" y1="345.7" x2="615.9" y2="345.7" stroke="#4a4aff" stroke-width="1"/>
<path d="M599.48 347.98L605.12 347.98L602.3 342.91Z" fill="#0000ff"/>
<text x="620.1" y="349.22" font-size="12.0" text-anchor="start" fill="#1a1a1a">15 ppm</text>
<line x1="588.5" y1="361.1" x2="615.9" y2="361.1" stroke="#ff4aff" stroke-width="1"/>
<path d="M599.48 358.82L605.12 358.82L602.3 363.89Z" fill="#ff00ff"/>
<text x="620.1" y="364.62" font-size="12.0" text-anchor="start" fill="#1a1a1a">10 ppm</text>
<text x="345.1" y="422.7" font-size="12.5" text-anchor="middle" fill="#1a1a1a" transform="rotate(-90 345.1 422.7)"><tspan font-style="italic">q</tspan><tspan font-size="8.5" dy="4.2" dx="0.3">e</tspan><tspan dy="-4.2"> (mg/g)</tspan></text>
<text x="509.5" y="554.6" font-size="12.5" text-anchor="middle" fill="#1a1a1a" textLength="116.7" lengthAdjust="spacingAndGlyphs">Adsorbent dose (g/L)</text>
<text transform="translate(348.91 284.76) scale(1.0086 0.9921)" font-size="24" font-weight="bold" fill="#000">d</text>
<text transform="translate(363.88 284.35) scale(0.9456 1.0316)" font-size="24" font-weight="bold" fill="#000">)</text>
<rect x="58.2" y="613.2" width="36.6" height="206.5" fill="#ff0000" stroke="#4a0000" stroke-width="1"/>
<rect x="103.95" y="613.2" width="36.6" height="206.5" fill="#ff0000" stroke="#4a0000" stroke-width="1"/>
<rect x="149.7" y="614.5" width="36.6" height="205.2" fill="#ff0000" stroke="#4a0000" stroke-width="1"/>
<rect x="195.45" y="620.2" width="36.6" height="199.5" fill="#ff0000" stroke="#4a0000" stroke-width="1"/>
<rect x="241.2" y="620.9" width="36.6" height="198.8" fill="#ff0000" stroke="#4a0000" stroke-width="1"/>
<rect x="286.95" y="625.3" width="36.6" height="194.4" fill="#ff0000" stroke="#4a0000" stroke-width="1"/>
<line x1="76.5" y1="611" x2="76.5" y2="614.8" stroke="#111" stroke-width="1"/>
<line x1="74.5" y1="611" x2="78.5" y2="611" stroke="#111" stroke-width="1"/>
<line x1="74.5" y1="614.8" x2="78.5" y2="614.8" stroke="#111" stroke-width="1"/>
<line x1="122.25" y1="612.7" x2="122.25" y2="613.6" stroke="#111" stroke-width="1"/>
<line x1="120.25" y1="612.7" x2="124.25" y2="612.7" stroke="#111" stroke-width="1"/>
<line x1="120.25" y1="613.6" x2="124.25" y2="613.6" stroke="#111" stroke-width="1"/>
<line x1="168" y1="612.8" x2="168" y2="616.5" stroke="#111" stroke-width="1"/>
<line x1="166" y1="612.8" x2="170" y2="612.8" stroke="#111" stroke-width="1"/>
<line x1="166" y1="616.5" x2="170" y2="616.5" stroke="#111" stroke-width="1"/>
<line x1="213.75" y1="615.4" x2="213.75" y2="624.6" stroke="#111" stroke-width="1"/>
<line x1="211.75" y1="615.4" x2="215.75" y2="615.4" stroke="#111" stroke-width="1"/>
<line x1="211.75" y1="624.6" x2="215.75" y2="624.6" stroke="#111" stroke-width="1"/>
<line x1="259.5" y1="619.1" x2="259.5" y2="622.2" stroke="#111" stroke-width="1"/>
<line x1="257.5" y1="619.1" x2="261.5" y2="619.1" stroke="#111" stroke-width="1"/>
<line x1="257.5" y1="622.2" x2="261.5" y2="622.2" stroke="#111" stroke-width="1"/>
<line x1="305.25" y1="620.5" x2="305.25" y2="629.7" stroke="#111" stroke-width="1"/>
<line x1="303.25" y1="620.5" x2="307.25" y2="620.5" stroke="#111" stroke-width="1"/>
<line x1="303.25" y1="629.7" x2="307.25" y2="629.7" stroke="#111" stroke-width="1"/>
<line x1="53.7" y1="596.8" x2="53.7" y2="819.7" stroke="#3a3a3a" stroke-width="1"/>
<line x1="49.7" y1="819.7" x2="53.7" y2="819.7" stroke="#3a3a3a" stroke-width="1"/>
<line x1="49.7" y1="776.8" x2="53.7" y2="776.8" stroke="#3a3a3a" stroke-width="1"/>
<line x1="49.7" y1="733.9" x2="53.7" y2="733.9" stroke="#3a3a3a" stroke-width="1"/>
<line x1="49.7" y1="691" x2="53.7" y2="691" stroke="#3a3a3a" stroke-width="1"/>
<line x1="49.7" y1="648.1" x2="53.7" y2="648.1" stroke="#3a3a3a" stroke-width="1"/>
<line x1="49.7" y1="605.2" x2="53.7" y2="605.2" stroke="#3a3a3a" stroke-width="1"/>
<line x1="51.7" y1="798.25" x2="53.7" y2="798.25" stroke="#3a3a3a" stroke-width="1"/>
<line x1="51.7" y1="755.35" x2="53.7" y2="755.35" stroke="#3a3a3a" stroke-width="1"/>
<line x1="51.7" y1="712.45" x2="53.7" y2="712.45" stroke="#3a3a3a" stroke-width="1"/>
<line x1="51.7" y1="669.55" x2="53.7" y2="669.55" stroke="#3a3a3a" stroke-width="1"/>
<line x1="51.7" y1="626.65" x2="53.7" y2="626.65" stroke="#3a3a3a" stroke-width="1"/>
<text x="47" y="822.97" font-size="12.7" text-anchor="end" fill="#1a1a1a">0</text>
<text x="47" y="780.07" font-size="12.7" text-anchor="end" fill="#1a1a1a">20</text>
<text x="47" y="737.17" font-size="12.7" text-anchor="end" fill="#1a1a1a">40</text>
<text x="47" y="694.27" font-size="12.7" text-anchor="end" fill="#1a1a1a">60</text>
<text x="47" y="651.37" font-size="12.7" text-anchor="end" fill="#1a1a1a">80</text>
<text x="47" y="608.47" font-size="12.7" text-anchor="end" fill="#1a1a1a">100</text>
<line x1="53.7" y1="819.7" x2="327.6" y2="819.7" stroke="#3a3a3a" stroke-width="1"/>
<line x1="76.5" y1="819.7" x2="76.5" y2="823.7" stroke="#3a3a3a" stroke-width="1"/>
<line x1="122.25" y1="819.7" x2="122.25" y2="823.7" stroke="#3a3a3a" stroke-width="1"/>
<line x1="168" y1="819.7" x2="168" y2="823.7" stroke="#3a3a3a" stroke-width="1"/>
<line x1="213.75" y1="819.7" x2="213.75" y2="823.7" stroke="#3a3a3a" stroke-width="1"/>
<line x1="259.5" y1="819.7" x2="259.5" y2="823.7" stroke="#3a3a3a" stroke-width="1"/>
<line x1="305.25" y1="819.7" x2="305.25" y2="823.7" stroke="#3a3a3a" stroke-width="1"/>
<line x1="53.62" y1="819.7" x2="53.62" y2="821.7" stroke="#3a3a3a" stroke-width="1"/>
<line x1="99.38" y1="819.7" x2="99.38" y2="821.7" stroke="#3a3a3a" stroke-width="1"/>
<line x1="145.12" y1="819.7" x2="145.12" y2="821.7" stroke="#3a3a3a" stroke-width="1"/>
<line x1="190.88" y1="819.7" x2="190.88" y2="821.7" stroke="#3a3a3a" stroke-width="1"/>
<line x1="236.62" y1="819.7" x2="236.62" y2="821.7" stroke="#3a3a3a" stroke-width="1"/>
<line x1="282.38" y1="819.7" x2="282.38" y2="821.7" stroke="#3a3a3a" stroke-width="1"/>
<line x1="328.12" y1="819.7" x2="328.12" y2="821.7" stroke="#3a3a3a" stroke-width="1"/>
<line x1="53.7" y1="819.7" x2="53.7" y2="823.7" stroke="#3a3a3a" stroke-width="1"/>
<text x="76.5" y="837.2" font-size="12.7" text-anchor="middle" fill="#1a1a1a">30</text>
<text x="122.25" y="837.2" font-size="12.7" text-anchor="middle" fill="#1a1a1a">40</text>
<text x="168" y="837.2" font-size="12.7" text-anchor="middle" fill="#1a1a1a">50</text>
<text x="213.75" y="837.2" font-size="12.7" text-anchor="middle" fill="#1a1a1a">60</text>
<text x="259.5" y="837.2" font-size="12.7" text-anchor="middle" fill="#1a1a1a">70</text>
<text x="305.25" y="837.2" font-size="12.7" text-anchor="middle" fill="#1a1a1a">80</text>
<rect x="278.5" y="584.6" width="59.9" height="16.6" fill="#fff" stroke="#666" stroke-width="1.4"/>
<rect x="281.5" y="586.4" width="28.1" height="13.2" fill="#ff0000" stroke="#111" stroke-width="1"/>
<text x="316.9" y="597.2" font-size="12" text-anchor="start" fill="#1a1a1a">RB</text>
<text x="16.2" y="716.6" font-size="12.5" text-anchor="middle" fill="#1a1a1a" transform="rotate(-90 16.2 716.6)">% Removal</text>
<text x="190.85" y="860.2" font-size="12.5" text-anchor="middle" fill="#1a1a1a" textLength="97.7" lengthAdjust="spacingAndGlyphs">Temperature (<tspan font-size="7.5" dy="-6">o</tspan><tspan dy="6">C)</tspan></text>
<text transform="translate(32.36 569.54) scale(1.0093 1.0645)" font-size="24" font-weight="bold" fill="#000">e</text>
<text transform="translate(46.68 568.82) scale(0.9456 1.0182)" font-size="24" font-weight="bold" fill="#000">)</text>
<rect x="387.2" y="618.7" width="36.6" height="200.7" fill="#0000ff" stroke="#00004a" stroke-width="1"/>
<rect x="432.82" y="622.7" width="36.6" height="196.7" fill="#0000ff" stroke="#00004a" stroke-width="1"/>
<rect x="478.44" y="623.3" width="36.6" height="196.1" fill="#0000ff" stroke="#00004a" stroke-width="1"/>
<rect x="524.06" y="624.3" width="36.6" height="195.1" fill="#0000ff" stroke="#00004a" stroke-width="1"/>
<rect x="569.68" y="630.3" width="36.6" height="189.1" fill="#0000ff" stroke="#00004a" stroke-width="1"/>
<rect x="615.3" y="630.3" width="36.6" height="189.1" fill="#0000ff" stroke="#00004a" stroke-width="1"/>
<line x1="405.5" y1="613.5" x2="405.5" y2="622.9" stroke="#111" stroke-width="1"/>
<line x1="403.5" y1="613.5" x2="407.5" y2="613.5" stroke="#111" stroke-width="1"/>
<line x1="403.5" y1="622.9" x2="407.5" y2="622.9" stroke="#111" stroke-width="1"/>
<line x1="451.12" y1="619.1" x2="451.12" y2="626.3" stroke="#111" stroke-width="1"/>
<line x1="449.12" y1="619.1" x2="453.12" y2="619.1" stroke="#111" stroke-width="1"/>
<line x1="449.12" y1="626.3" x2="453.12" y2="626.3" stroke="#111" stroke-width="1"/>
<line x1="496.74" y1="612.4" x2="496.74" y2="634.4" stroke="#111" stroke-width="1"/>
<line x1="494.74" y1="612.4" x2="498.74" y2="612.4" stroke="#111" stroke-width="1"/>
<line x1="494.74" y1="634.4" x2="498.74" y2="634.4" stroke="#111" stroke-width="1"/>
<line x1="542.36" y1="618.5" x2="542.36" y2="629.1" stroke="#111" stroke-width="1"/>
<line x1="540.36" y1="618.5" x2="544.36" y2="618.5" stroke="#111" stroke-width="1"/>
<line x1="540.36" y1="629.1" x2="544.36" y2="629.1" stroke="#111" stroke-width="1"/>
<line x1="587.98" y1="623.5" x2="587.98" y2="637" stroke="#111" stroke-width="1"/>
<line x1="585.98" y1="623.5" x2="589.98" y2="623.5" stroke="#111" stroke-width="1"/>
<line x1="585.98" y1="637" x2="589.98" y2="637" stroke="#111" stroke-width="1"/>
<line x1="633.6" y1="625.6" x2="633.6" y2="636" stroke="#111" stroke-width="1"/>
<line x1="631.6" y1="625.6" x2="635.6" y2="625.6" stroke="#111" stroke-width="1"/>
<line x1="631.6" y1="636" x2="635.6" y2="636" stroke="#111" stroke-width="1"/>
<line x1="382.4" y1="596.9" x2="382.4" y2="819.4" stroke="#3a3a3a" stroke-width="1"/>
<line x1="378.4" y1="819.4" x2="382.4" y2="819.4" stroke="#3a3a3a" stroke-width="1"/>
<line x1="378.4" y1="774.9" x2="382.4" y2="774.9" stroke="#3a3a3a" stroke-width="1"/>
<line x1="378.4" y1="730.4" x2="382.4" y2="730.4" stroke="#3a3a3a" stroke-width="1"/>
<line x1="378.4" y1="685.9" x2="382.4" y2="685.9" stroke="#3a3a3a" stroke-width="1"/>
<line x1="378.4" y1="641.4" x2="382.4" y2="641.4" stroke="#3a3a3a" stroke-width="1"/>
<line x1="378.4" y1="596.9" x2="382.4" y2="596.9" stroke="#3a3a3a" stroke-width="1"/>
<line x1="380.4" y1="797.15" x2="382.4" y2="797.15" stroke="#3a3a3a" stroke-width="1"/>
<line x1="380.4" y1="752.65" x2="382.4" y2="752.65" stroke="#3a3a3a" stroke-width="1"/>
<line x1="380.4" y1="708.15" x2="382.4" y2="708.15" stroke="#3a3a3a" stroke-width="1"/>
<line x1="380.4" y1="663.65" x2="382.4" y2="663.65" stroke="#3a3a3a" stroke-width="1"/>
<line x1="380.4" y1="619.15" x2="382.4" y2="619.15" stroke="#3a3a3a" stroke-width="1"/>
<text x="375.4" y="822.67" font-size="12.7" text-anchor="end" fill="#1a1a1a">0</text>
<text x="375.4" y="778.17" font-size="12.7" text-anchor="end" fill="#1a1a1a">20</text>
<text x="375.4" y="733.67" font-size="12.7" text-anchor="end" fill="#1a1a1a">40</text>
<text x="375.4" y="689.17" font-size="12.7" text-anchor="end" fill="#1a1a1a">60</text>
<text x="375.4" y="644.67" font-size="12.7" text-anchor="end" fill="#1a1a1a">80</text>
<text x="375.4" y="600.17" font-size="12.7" text-anchor="end" fill="#1a1a1a">100</text>
<line x1="382.4" y1="819.4" x2="656.2" y2="819.4" stroke="#3a3a3a" stroke-width="1"/>
<line x1="405.5" y1="819.4" x2="405.5" y2="823.4" stroke="#3a3a3a" stroke-width="1"/>
<line x1="451.12" y1="819.4" x2="451.12" y2="823.4" stroke="#3a3a3a" stroke-width="1"/>
<line x1="496.74" y1="819.4" x2="496.74" y2="823.4" stroke="#3a3a3a" stroke-width="1"/>
<line x1="542.36" y1="819.4" x2="542.36" y2="823.4" stroke="#3a3a3a" stroke-width="1"/>
<line x1="587.98" y1="819.4" x2="587.98" y2="823.4" stroke="#3a3a3a" stroke-width="1"/>
<line x1="633.6" y1="819.4" x2="633.6" y2="823.4" stroke="#3a3a3a" stroke-width="1"/>
<line x1="382.69" y1="819.4" x2="382.69" y2="821.4" stroke="#3a3a3a" stroke-width="1"/>
<line x1="428.31" y1="819.4" x2="428.31" y2="821.4" stroke="#3a3a3a" stroke-width="1"/>
<line x1="473.93" y1="819.4" x2="473.93" y2="821.4" stroke="#3a3a3a" stroke-width="1"/>
<line x1="519.55" y1="819.4" x2="519.55" y2="821.4" stroke="#3a3a3a" stroke-width="1"/>
<line x1="565.17" y1="819.4" x2="565.17" y2="821.4" stroke="#3a3a3a" stroke-width="1"/>
<line x1="610.79" y1="819.4" x2="610.79" y2="821.4" stroke="#3a3a3a" stroke-width="1"/>
<line x1="656.41" y1="819.4" x2="656.41" y2="821.4" stroke="#3a3a3a" stroke-width="1"/>
<line x1="382.4" y1="819.4" x2="382.4" y2="823.4" stroke="#3a3a3a" stroke-width="1"/>
<text x="405.5" y="837.2" font-size="12.7" text-anchor="middle" fill="#1a1a1a">30</text>
<text x="451.12" y="837.2" font-size="12.7" text-anchor="middle" fill="#1a1a1a">40</text>
<text x="496.74" y="837.2" font-size="12.7" text-anchor="middle" fill="#1a1a1a">50</text>
<text x="542.36" y="837.2" font-size="12.7" text-anchor="middle" fill="#1a1a1a">60</text>
<text x="587.98" y="837.2" font-size="12.7" text-anchor="middle" fill="#1a1a1a">70</text>
<text x="633.6" y="837.2" font-size="12.7" text-anchor="middle" fill="#1a1a1a">80</text>
<rect x="611.5" y="582.7" width="57.3" height="16.5" fill="#fff" stroke="#666" stroke-width="1.4"/>
<rect x="614" y="584.3" width="27.8" height="13.3" fill="#0000ff" stroke="#111" stroke-width="1"/>
<text x="649.3" y="595.25" font-size="12" text-anchor="start" fill="#1a1a1a">LV</text>
<text x="345" y="716.6" font-size="12.5" text-anchor="middle" fill="#1a1a1a" transform="rotate(-90 345 716.6)">% Removal</text>
<text x="519.55" y="859.9" font-size="12.5" text-anchor="middle" fill="#1a1a1a" textLength="96.7" lengthAdjust="spacingAndGlyphs">Temperature (<tspan font-size="7.5" dy="-6">o</tspan><tspan dy="6">C)</tspan></text>
<text transform="translate(352.33 569.1) scale(1.1399 1.0057)" font-size="24" font-weight="bold" fill="#000">f</text>
<text transform="translate(362.68 568.72) scale(0.8570 1.0182)" font-size="24" font-weight="bold" fill="#000">)</text>
</svg>
</body></html>
